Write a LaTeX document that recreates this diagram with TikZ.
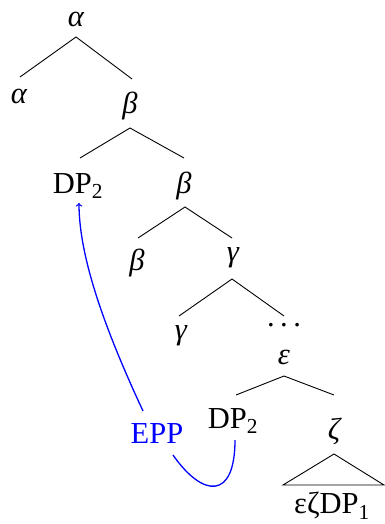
\documentclass[tikz,border=0pt]{standalone}
\usepackage{fontspec}
\setmainfont{Liberation Serif}
\begin{document}
\begin{tikzpicture}[x=1pt,y=-1pt,
  lbl/.style={inner sep=0pt, font=\fontsize{30.5}{36}\selectfont},
  gk/.style={lbl, font=\fontsize{30.5}{36}\selectfont\itshape},
  br/.style={line width=0.9pt},
  mv/.style={blue, line width=1.3pt}]
\useasboundingbox (0,0) rectangle (384,524);
% nodes
\node[gk] (a0) at (76,19) {α};
\node[gk] (a1) at (19,96) {α};
\node[gk] (b0) at (130,106) {β};
\node[lbl] (dpa) at (78,186) {DP\textsubscript{2}};
\node[gk] (b1) at (184,186) {β};
\node[gk] (b2) at (137,263) {β};
\node[gk] (g0) at (233,258) {γ};
\node[gk] (g1) at (181,336) {γ};
\node[lbl] (dots) at (284,325) {.\hspace{0.18em}.\hspace{0.18em}.};
\node[gk] (e0) at (284,357) {ε};
\node[lbl] (dpb) at (233,421) {DP\textsubscript{2}};
\node[gk] (z0) at (334,431) {ζ};
\node[lbl] (leaf) at (332,506) {εζDP\textsubscript{1}};
\node[lbl, text=blue] (epp) at (157,434) {EPP};
% branch points
\coordinate (a0s) at (76,37);
\coordinate (a1n) at (20,77);
\coordinate (b0n) at (132,79);
\coordinate (b0s) at (130,128);
\coordinate (dpan) at (80,158);
\coordinate (b1n) at (184,158);
\coordinate (b1s) at (185,207);
\coordinate (b2n) at (138,238);
\coordinate (g0n) at (232,238);
\coordinate (g0s) at (232,279);
\coordinate (g1n) at (179,316);
\coordinate (dotsn) at (284,316);
\coordinate (e0s) at (284,376);
\coordinate (dpbn) at (236,395);
\coordinate (z0n) at (334,395);
\coordinate (z0s) at (334,454);
\coordinate (tl) at (283,485);
\coordinate (tr) at (384,485);
\coordinate (dpas) at (79,203);
\coordinate (dpbs) at (235,440);
\coordinate (eppn) at (143,411);
\coordinate (eppse) at (173,455);
% branches
\draw[br] (a1n) -- (a0s) -- (b0n);
\draw[br] (dpan) -- (b0s) -- (b1n);
\draw[br] (b2n) -- (b1s) -- (g0n);
\draw[br] (g1n) -- (g0s) -- (dotsn);
\draw[br] (dpbn) -- (e0s) -- (z0n);
\draw[br] (z0s) -- (tl) -- (tr) -- cycle;
% movement
\draw[mv] (dpbs) .. controls (235,500) and (203,498) .. (eppse);
\draw[mv,->] (eppn) .. controls (110,340) and (79,262) .. (dpas);
\end{tikzpicture}
\end{document}
